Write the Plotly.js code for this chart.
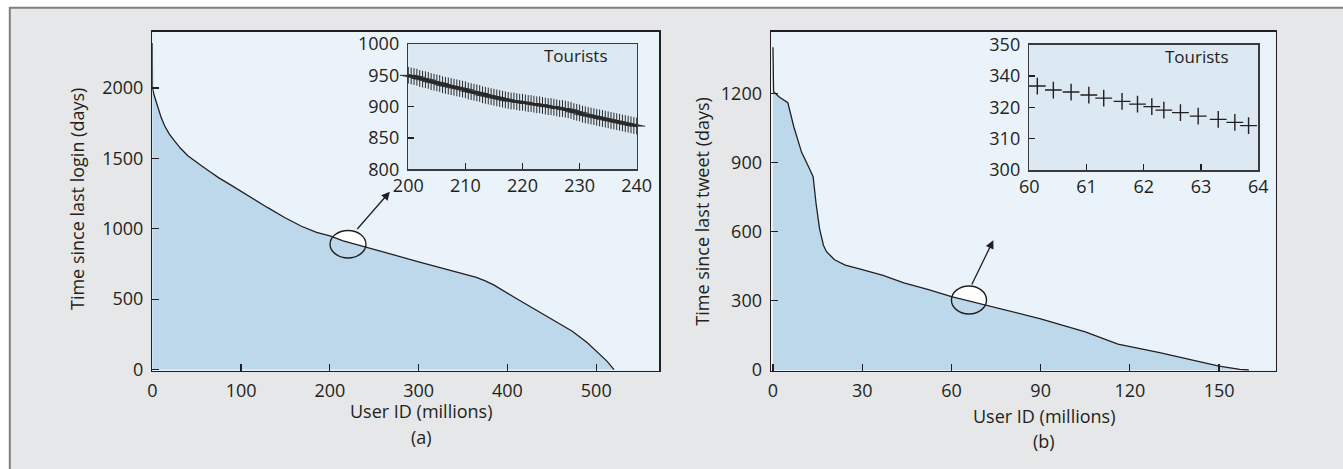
<!DOCTYPE html>
<html>
<head>
<meta charset="utf-8">
<script src="https://cdn.plot.ly/plotly-3.0.1.min.js"></script>
<style>html,body{margin:0;padding:0;background:#fff;}#chart{width:1343px;height:469px;}</style>
</head>
<body>
<div id="chart"></div>
<script>
// ---- Panel (a): time since last login vs user ID ----
const loginUserIds = [0, 0.2, 2, 4.5, 7, 10, 14, 19, 25, 32, 40, 48, 55, 65, 75, 90, 111, 130, 149, 168, 185, 200, 215, 230, 245, 270, 300, 330, 355, 365, 375, 385, 410, 440, 473, 490, 502, 512, 520];
const loginDays    = [2320, 2000, 1950, 1900, 1840, 1790, 1730, 1675, 1625, 1570, 1519, 1480, 1450, 1405, 1362, 1305, 1222, 1150, 1080, 1018, 975, 950, 915, 888, 858, 818, 765, 713, 672, 655, 630, 600, 505, 395, 272, 190, 118, 60, 0];

// Inset (a): tourists, user IDs 200-240 million
const insetAIds = [200,200.5,201,201.5,202,202.5,203,203.5,204,204.5,205,205.5,206,206.5,207,207.5,208,208.5,209,209.5,
  210,210.5,211,211.5,212,212.5,213,213.5,214,214.5,215,215.5,216,216.5,217,217.5,218,218.5,219,219.5,
  220,220.5,221,221.5,222,222.5,223,223.5,224,224.5,225,225.5,226,226.5,227,227.5,228,228.5,229,229.5,
  230,230.5,231,231.5,232,232.5,233,233.5,234,234.5,235,235.5,236,236.5,237,237.5,238,238.5,239,239.5,240];
const insetADays = [950,949,948,947,945,944,943,942,940,939,938,937,935,934,933,932,931,930,929,928,
  927,925,924,923,922,921,919,918,917,916,915,914,913,912,911,910,909,909,908,907,
  907,906,905,905,904,903,903,902,901,900,900,899,898,897,897,896,895,894,892,891,
  890,888,887,886,885,884,883,882,881,880,879,878,877,876,875,874,873,872,871,870,869];

// ---- Panel (b): time since last tweet vs user ID ----
const tweetUserIds = [0, 0.2, 2, 5, 7, 9.6, 12, 13.5, 14.5, 15.7, 17, 18, 20.7, 24.3, 30, 37, 44, 52, 60, 75, 90, 105, 116, 130, 150, 157, 160];
const tweetDays    = [1400, 1207, 1185, 1159, 1055, 945, 880, 838, 720, 610, 540, 513, 478, 455, 435, 410, 378, 350, 318, 270, 222, 165, 112, 75, 17, 3, 0];

// Inset (b): tourists, user IDs 60-64 million
const insetBIds  = [60.14, 60.42, 60.73, 61.04, 61.30, 61.62, 61.89, 62.14, 62.35, 62.64, 62.95, 63.30, 63.59, 63.83];
const insetBDays = [333.5, 331.9, 331.1, 329.9, 328.7, 327.4, 326.3, 325.3, 323.9, 322.9, 321.5, 320.2, 319.0, 317.7];

// tick labels
const aXTicks = [0, 100, 200, 300, 400, 500];
const aYTicks = [0, 500, 1000, 1500, 2000];
const bXTicks = [0, 30, 60, 90, 120, 150];
const bYTicks = [0, 300, 600, 900, 1200];
const aInsetXTicks = [200, 210, 220, 230, 240];
const aInsetYTicks = [800, 850, 900, 950, 1000];
const bInsetXTicks = [60, 61, 62, 63, 64];
const bInsetYTickVals = [300, 312.5, 325, 337.5, 350];
const bInsetYTickText = ['300', '310', '320', '340', '350'];

const W = 1343, H = 469;
const px = v => v / W;
const py = v => 1 - v / H;

const INK = '#231f20';
const FILL = '#bdd8ea';
const FONT = 'Open Sans';

const traces = [
  {x: loginUserIds, y: loginDays, xaxis: 'x', yaxis: 'y', type: 'scatter', mode: 'lines',
   fill: 'tozeroy', fillcolor: FILL, line: {color: INK, width: 1.3}, hoverinfo: 'skip'},
  {x: tweetUserIds, y: tweetDays, xaxis: 'x2', yaxis: 'y2', type: 'scatter', mode: 'lines',
   fill: 'tozeroy', fillcolor: FILL, line: {color: INK, width: 1.3}, hoverinfo: 'skip'},
  {x: insetAIds, y: insetADays, xaxis: 'x3', yaxis: 'y3', type: 'scatter', mode: 'lines+markers',
   line: {color: INK, width: 2.5}, cliponaxis: false,
   marker: {symbol: 'cross-thin-open', size: 12, color: '#2a2a2a', line: {color: '#2a2a2a', width: 1}}, hoverinfo: 'skip'},
  {x: insetBIds, y: insetBDays, xaxis: 'x4', yaxis: 'y4', type: 'scatter', mode: 'markers',
   cliponaxis: false,
   marker: {symbol: 'cross-thin-open', size: 12, color: INK, line: {color: INK, width: 1.4}}, hoverinfo: 'skip'}
];

function axisBase(extra) {
  return Object.assign({
    showline: true, mirror: true, linecolor: INK, linewidth: 1.3,
    ticks: 'inside', ticklen: 7, tickwidth: 1.2, tickcolor: INK,
    showgrid: false, zeroline: false, tickfont: {family: FONT, size: 18, color: INK},
    fixedrange: true
  }, extra);
}

const layout = {
  width: W, height: H,
  margin: {l: 0, r: 0, t: 0, b: 0},
  paper_bgcolor: '#e6e7e8',
  plot_bgcolor: '#dce9f3',
  showlegend: false,
  font: {family: FONT, size: 18, color: INK},
  xaxis: axisBase({domain: [px(152.3), px(659.3)], range: [0, 571], tickvals: aXTicks, anchor: 'y', ticklabelstandoff: 3}),
  yaxis: axisBase({domain: [py(370.7), py(31.7)], range: [-8, 2400], tickvals: aYTicks, anchor: 'x', ticklabelstandoff: 4}),
  xaxis2: axisBase({domain: [px(770.9), px(1275.6)], range: [-0.7, 169], tickvals: bXTicks, anchor: 'y2', ticklabelstandoff: 3}),
  yaxis2: axisBase({domain: [py(370.7), py(31.7)], range: [-3, 1467], tickvals: bYTicks, anchor: 'x2', ticklabelstandoff: 4}),
  xaxis3: axisBase({domain: [px(408.3), px(636.7)], range: [200, 240], tickvals: aInsetXTicks, anchor: 'y3',
    linecolor: '#3a3a3a', linewidth: 1.5, ticklen: 6, ticklabelstandoff: 0}),
  yaxis3: axisBase({domain: [py(169.3), py(44)], range: [800, 1000], tickvals: aInsetYTicks, anchor: 'x3',
    linecolor: '#3a3a3a', linewidth: 1.5, ticklen: 6, ticklabelstandoff: 4}),
  xaxis4: axisBase({domain: [px(1029.3), px(1258.3)], range: [60, 64], tickvals: bInsetXTicks, anchor: 'y4',
    linecolor: '#3a3a3a', linewidth: 1.5, ticklen: 6, ticklabelstandoff: 0}),
  yaxis4: axisBase({domain: [py(170), py(44.7)], range: [300, 350], tickvals: bInsetYTickVals, ticktext: bInsetYTickText,
    anchor: 'x4', linecolor: '#3a3a3a', linewidth: 1.5, ticklen: 6, ticklabelstandoff: 4}),
  shapes: [
    // outer white margins and grey frame lines
    {type: 'rect', xref: 'paper', yref: 'paper', x0: 0, x1: 1, y0: py(7), y1: 1, fillcolor: '#ffffff', line: {width: 0}, layer: 'below'},
    {type: 'rect', xref: 'paper', yref: 'paper', x0: 0, x1: px(9), y0: 0, y1: 1, fillcolor: '#ffffff', line: {width: 0}, layer: 'below'},
    {type: 'line', xref: 'paper', yref: 'paper', x0: px(9), x1: 1, y0: py(7.8), y1: py(7.8), line: {color: '#7f7f7f', width: 2}, layer: 'below'},
    {type: 'line', xref: 'paper', yref: 'paper', x0: px(9.8), x1: px(9.8), y0: 0, y1: py(7), line: {color: '#7f7f7f', width: 2}, layer: 'below'},
    // main plot backgrounds
    {type: 'rect', xref: 'x domain', yref: 'y domain', x0: 0, x1: 1, y0: 0, y1: 1, fillcolor: '#ebf3fa', line: {width: 0}, layer: 'below'},
    {type: 'rect', xref: 'x2 domain', yref: 'y2 domain', x0: 0, x1: 1, y0: 0, y1: 1, fillcolor: '#ebf3fa', line: {width: 0}, layer: 'below'},
    // zoom ellipses: white interior behind the fill, outline on top
    {type: 'circle', xref: 'x', yref: 'y', x0: 200.2, x1: 240.6, y0: 793, y1: 988, fillcolor: '#ffffff', line: {width: 0}, layer: 'below'},
    {type: 'circle', xref: 'x2', yref: 'y2', x0: 60, x1: 71.8, y0: 243, y1: 364, fillcolor: '#ffffff', line: {width: 0}, layer: 'below'},
    {type: 'circle', xref: 'x', yref: 'y', x0: 200.2, x1: 240.6, y0: 793, y1: 988, line: {color: INK, width: 1.4}, layer: 'above'},
    {type: 'circle', xref: 'x2', yref: 'y2', x0: 60, x1: 71.8, y0: 243, y1: 364, line: {color: INK, width: 1.4}, layer: 'above'}
  ],
  annotations: [
    // arrows from ellipses toward insets
    {xref: 'x', yref: 'y', axref: 'x', ayref: 'y', x: 267.6, y: 1264, ax: 229.4, ay: 988, text: '', showarrow: true,
     arrowhead: 2, arrowsize: 1.3, arrowwidth: 1.3, arrowcolor: INK, standoff: 0, startstandoff: 0},
    {xref: 'x2', yref: 'y2', axref: 'x2', ayref: 'y2', x: 74.1, y: 563, ax: 66.6, ay: 364, text: '', showarrow: true,
     arrowhead: 2, arrowsize: 1.3, arrowwidth: 1.3, arrowcolor: INK, standoff: 0, startstandoff: 0},
    // inset labels
    {xref: 'paper', yref: 'paper', x: px(575.8), y: py(55.8), text: 'Tourists', showarrow: false, xanchor: 'center', yanchor: 'middle', font: {size: 17}},
    {xref: 'paper', yref: 'paper', x: px(1196.7), y: py(56.7), text: 'Tourists', showarrow: false, xanchor: 'center', yanchor: 'middle', font: {size: 17}},
    // axis titles and panel labels
    {xref: 'paper', yref: 'paper', x: px(77), y: py(199), text: 'Time since last login (days)', textangle: -90, showarrow: false, xanchor: 'center', yanchor: 'middle', font: {size: 18}},
    {xref: 'paper', yref: 'paper', x: px(421.7), y: py(411), text: 'User ID (millions)', showarrow: false, xanchor: 'center', yanchor: 'middle', font: {size: 18}, borderpad: 0},
    {xref: 'paper', yref: 'paper', x: px(421.7), y: py(437), text: '(a)', showarrow: false, xanchor: 'center', yanchor: 'middle', font: {size: 18}, borderpad: 0},
    {xref: 'paper', yref: 'paper', x: px(702), y: py(211.7), text: 'Time since last tweet (days)', textangle: -90, showarrow: false, xanchor: 'center', yanchor: 'middle', font: {size: 18}},
    {xref: 'paper', yref: 'paper', x: px(1044), y: py(416), text: 'User ID (millions)', showarrow: false, xanchor: 'center', yanchor: 'middle', font: {size: 18}, borderpad: 0},
    {xref: 'paper', yref: 'paper', x: px(1044), y: py(441), text: '(b)', showarrow: false, xanchor: 'center', yanchor: 'middle', font: {size: 18}, borderpad: 0}
  ]
};

Plotly.newPlot('chart', traces, layout, {staticPlot: true, displayModeBar: false});
</script>
</body>
</html>
